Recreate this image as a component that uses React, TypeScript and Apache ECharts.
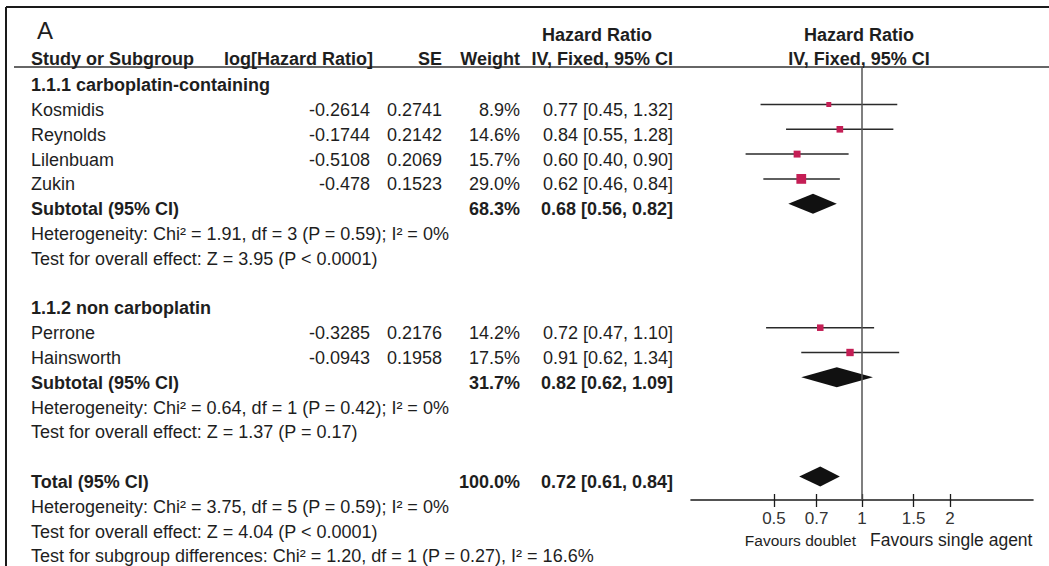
import React, { useEffect, useRef } from "react";
import * as echarts from "echarts";

// ---------------- DATA ----------------
const studyNames = ["Kosmidis", "Reynolds", "Lilenbuam", "Zukin", "Perrone", "Hainsworth"];
const studyLogHR = [-0.2614, -0.1744, -0.5108, -0.478, -0.3285, -0.0943];
const studySE = [0.2741, 0.2142, 0.2069, 0.1523, 0.2176, 0.1958];
const studyWeight = [8.9, 14.6, 15.7, 29.0, 14.2, 17.5];
const studyHR = [0.77, 0.84, 0.6, 0.62, 0.72, 0.91];
const studyLo = [0.45, 0.55, 0.4, 0.46, 0.47, 0.62];
const studyHi = [1.32, 1.28, 0.9, 0.84, 1.1, 1.34];
const studyRow = [1, 2, 3, 4, 10, 11];

const pooledLabels = ["Subtotal (95% CI)", "Subtotal (95% CI)", "Total (95% CI)"];
const pooledWeight = [68.3, 31.7, 100.0];
const pooledHR = [0.68, 0.82, 0.72];
const pooledLo = [0.56, 0.62, 0.61];
const pooledHi = [0.82, 1.09, 0.84];
const pooledRow = [5, 12, 16];

const groupHeads = ["1.1.1 carboplatin-containing", "1.1.2 non carboplatin"];
const groupHeadRow = [0, 9];

const noteTexts = [
  "Heterogeneity: Chi\u00B2 = 1.91, df = 3 (P = 0.59); I\u00B2 = 0%",
  "Test for overall effect: Z = 3.95 (P < 0.0001)",
  "Heterogeneity: Chi\u00B2 = 0.64, df = 1 (P = 0.42); I\u00B2 = 0%",
  "Test for overall effect: Z = 1.37 (P = 0.17)",
  "Heterogeneity: Chi\u00B2 = 3.75, df = 5 (P = 0.59); I\u00B2 = 0%",
  "Test for overall effect: Z = 4.04 (P < 0.0001)",
  "Test for subgroup differences: Chi\u00B2 = 1.20, df = 1 (P = 0.27), I\u00B2 = 16.6%",
];
const noteRow = [6, 7, 13, 14, 17, 18, 19];

const tickValues = [0.5, 0.7, 1, 1.5, 2];
const tickLabels = ["0.5", "0.7", "1", "1.5", "2"];
const favourLeft = "Favours doublet";
const favourRight = "Favours single agent";

// ---------------- LAYOUT / STYLE ----------------
const FONT = '"Liberation Sans", Arial, sans-serif';
const FS = 18;
const TXT = "#1e1e1e";
const SQ = "#c41e55";
const GRID_LEFT = 691;
const GRID_RIGHT_PX = 1033;
const GRID_TOP = 67;
const GRID_BOTTOM_PX = 500;
const X_HALF = 1.346; // ln units on each side of HR = 1
const Y_MIN = -0.512;
const Y_MAX = 16.948;
const TEXT_Y0 = 85.2; // text centre of row 0
const PITCH = 24.8;

const COL_NAME = 31;
const COL_LOG = 373;
const COL_SE = 442;
const COL_W = 520;
const COL_CI = 673;

const rowTextY = (k: number) => TEXT_Y0 + PITCH * k;
const ciText = (h: number, l: number, u: number) =>
  `${h.toFixed(2)} [${l.toFixed(2)}, ${u.toFixed(2)}]`;
const squareSize = (w: number) => 2 * Math.sqrt(w) - 1;

function txt(text: string, x: number, y: number, opts: any = {}) {
  return {
    type: "text",
    silent: true,
    style: {
      text,
      x,
      y,
      fill: opts.fill || TXT,
      font: `${opts.bold ? "bold " : ""}${opts.size || FS}px ${FONT}`,
      textAlign: opts.align || "left",
      textVerticalAlign: "middle",
      align: opts.align || "left",
      verticalAlign: "middle",
    },
  };
}

function buildGraphic() {
  const g: any[] = [];
  // frame
  g.push({ type: "line", silent: true, shape: { x1: 6, y1: 7, x2: 1049, y2: 7 }, style: { stroke: "#1a1a1a", lineWidth: 2 } });
  g.push({ type: "line", silent: true, shape: { x1: 6, y1: 7, x2: 6, y2: 566 }, style: { stroke: "#1a1a1a", lineWidth: 2 } });
  // header rule
  g.push({ type: "line", silent: true, shape: { x1: 14, y1: GRID_TOP, x2: 1049, y2: GRID_TOP }, style: { stroke: "#333", lineWidth: 1.6 } });

  g.push(txt("A", 37, 30, { size: 24 }));
  g.push(txt("Hazard Ratio", 597, 35, { bold: true, align: "center" }));
  g.push(txt("Hazard Ratio", 859, 35, { bold: true, align: "center" }));
  const hy = 59;
  g.push(txt("Study or Subgroup", COL_NAME, hy, { bold: true }));
  g.push(txt("log[Hazard Ratio]", COL_LOG, hy, { bold: true, align: "right" }));
  g.push(txt("SE", COL_SE, hy, { bold: true, align: "right" }));
  g.push(txt("Weight", COL_W, hy, { bold: true, align: "right" }));
  g.push(txt("IV, Fixed, 95% CI", COL_CI, hy, { bold: true, align: "right" }));
  g.push(txt("IV, Fixed, 95% CI", 859, hy, { bold: true, align: "center" }));

  groupHeads.forEach((h, i) => g.push(txt(h, COL_NAME, rowTextY(groupHeadRow[i]), { bold: true })));

  studyNames.forEach((n, i) => {
    const y = rowTextY(studyRow[i]);
    g.push(txt(n, COL_NAME, y));
    g.push(txt(String(studyLogHR[i]), COL_LOG - 3, y, { align: "right" }));
    g.push(txt(String(studySE[i]), COL_SE, y, { align: "right" }));
    g.push(txt(studyWeight[i].toFixed(1) + "%", COL_W, y, { align: "right" }));
    g.push(txt(ciText(studyHR[i], studyLo[i], studyHi[i]), COL_CI, y, { align: "right" }));
  });

  pooledLabels.forEach((n, i) => {
    const y = rowTextY(pooledRow[i]);
    g.push(txt(n, COL_NAME, y, { bold: true }));
    g.push(txt(pooledWeight[i].toFixed(1) + "%", COL_W, y, { bold: true, align: "right" }));
    g.push(txt(ciText(pooledHR[i], pooledLo[i], pooledHi[i]), COL_CI, y, { bold: true, align: "right" }));
  });

  noteTexts.forEach((n, i) => g.push(txt(n, COL_NAME, rowTextY(noteRow[i]))));

  g.push(txt(favourLeft, 856, 540, { align: "right", size: 15.5 }));
  g.push(txt(favourRight, 870, 540, { size: 17.5 }));
  return g;
}

export default function App() {
  const ref = useRef<HTMLDivElement>(null);
  useEffect(() => {
    const chart = echarts.init(ref.current!, null, { renderer: "svg" });
    const lnTicks = tickValues.map((v) => Math.log(v));
    const labelFor = (v: number) => {
      let best = 0;
      lnTicks.forEach((t, i) => {
        if (Math.abs(t - v) < Math.abs(lnTicks[best] - v)) best = i;
      });
      return tickLabels[best];
    };
    const studyData = studyNames.map((_, i) => [
      Math.log(studyLo[i]),
      Math.log(studyHi[i]),
      Math.log(studyHR[i]),
      studyRow[i],
      studyWeight[i],
    ]);
    const pooledData = pooledLabels.map((_, i) => [
      Math.log(pooledLo[i]),
      Math.log(pooledHi[i]),
      Math.log(pooledHR[i]),
      pooledRow[i],
    ]);
    chart.setOption({
      animation: false,
      backgroundColor: "#ffffff",
      grid: {
        left: GRID_LEFT,
        right: 1049 - GRID_RIGHT_PX,
        top: GRID_TOP,
        bottom: 566 - GRID_BOTTOM_PX,
        containLabel: false,
      },
      xAxis: [
        {
          type: "value",
          position: "bottom",
          min: -X_HALF,
          max: X_HALF,
          axisLine: { show: true, onZero: false, lineStyle: { color: "#1a1a1a", width: 1.6 } },
          axisTick: { show: true, customValues: lnTicks, length: 7, lineStyle: { color: "#1a1a1a", width: 1.3 } },
          axisLabel: {
            show: true,
            customValues: lnTicks,
            formatter: (v: number) => labelFor(v),
            color: "#333",
            fontSize: 17,
            fontFamily: FONT,
            margin: 10,
          },
          splitLine: { show: false },
        },
        {
          type: "value",
          position: "bottom",
          min: -X_HALF,
          max: X_HALF,
          axisLine: { show: false, onZero: false },
          axisTick: { show: true, inside: true, customValues: lnTicks, length: 6, lineStyle: { color: "#1a1a1a", width: 1.3 } },
          axisLabel: { show: false },
          splitLine: { show: false },
        },
      ],
      yAxis: {
        type: "value",
        min: Y_MIN,
        max: Y_MAX,
        inverse: true,
        show: false,
        splitLine: { show: false },
      },
      series: [
        {
          type: "custom",
          name: "studies",
          xAxisIndex: 0,
          encode: { x: [0, 1, 2], y: 3 },
          data: studyData,
          renderItem: (_p: any, api: any) => {
            const row = api.value(3);
            const a = api.coord([api.value(0), row]);
            const b = api.coord([api.value(1), row]);
            const c = api.coord([api.value(2), row]);
            const s = squareSize(api.value(4));
            return {
              type: "group",
              children: [
                { type: "line", shape: { x1: a[0], y1: a[1], x2: b[0], y2: b[1] }, style: { stroke: "#2a2a2a", lineWidth: 1.5 } },
                { type: "rect", shape: { x: c[0] - s / 2, y: c[1] - s / 2, width: s, height: s }, style: { fill: SQ } },
              ],
            };
          },
          markLine: {
            silent: true,
            symbol: "none",
            label: { show: false },
            lineStyle: { color: "#555", width: 1.5, type: "solid" },
            data: [{ xAxis: 0 }],
          },
          z: 3,
        },
        {
          type: "custom",
          name: "pooled",
          xAxisIndex: 0,
          encode: { x: [0, 1, 2], y: 3 },
          data: pooledData,
          renderItem: (_p: any, api: any) => {
            const row = api.value(3);
            const a = api.coord([api.value(0), row]);
            const b = api.coord([api.value(1), row]);
            const c = api.coord([api.value(2), row]);
            const h = 10;
            return {
              type: "polygon",
              shape: { points: [[a[0], a[1]], [c[0], c[1] - h], [b[0], b[1]], [c[0], c[1] + h]] },
              style: { fill: "#111" },
            };
          },
          z: 4,
        },
      ],
      graphic: buildGraphic(),
    });
    return () => chart.dispose();
  }, []);
  return <div ref={ref} style={{ position: "absolute", left: 0, top: 0, width: 1049, height: 566 }} />;
}
